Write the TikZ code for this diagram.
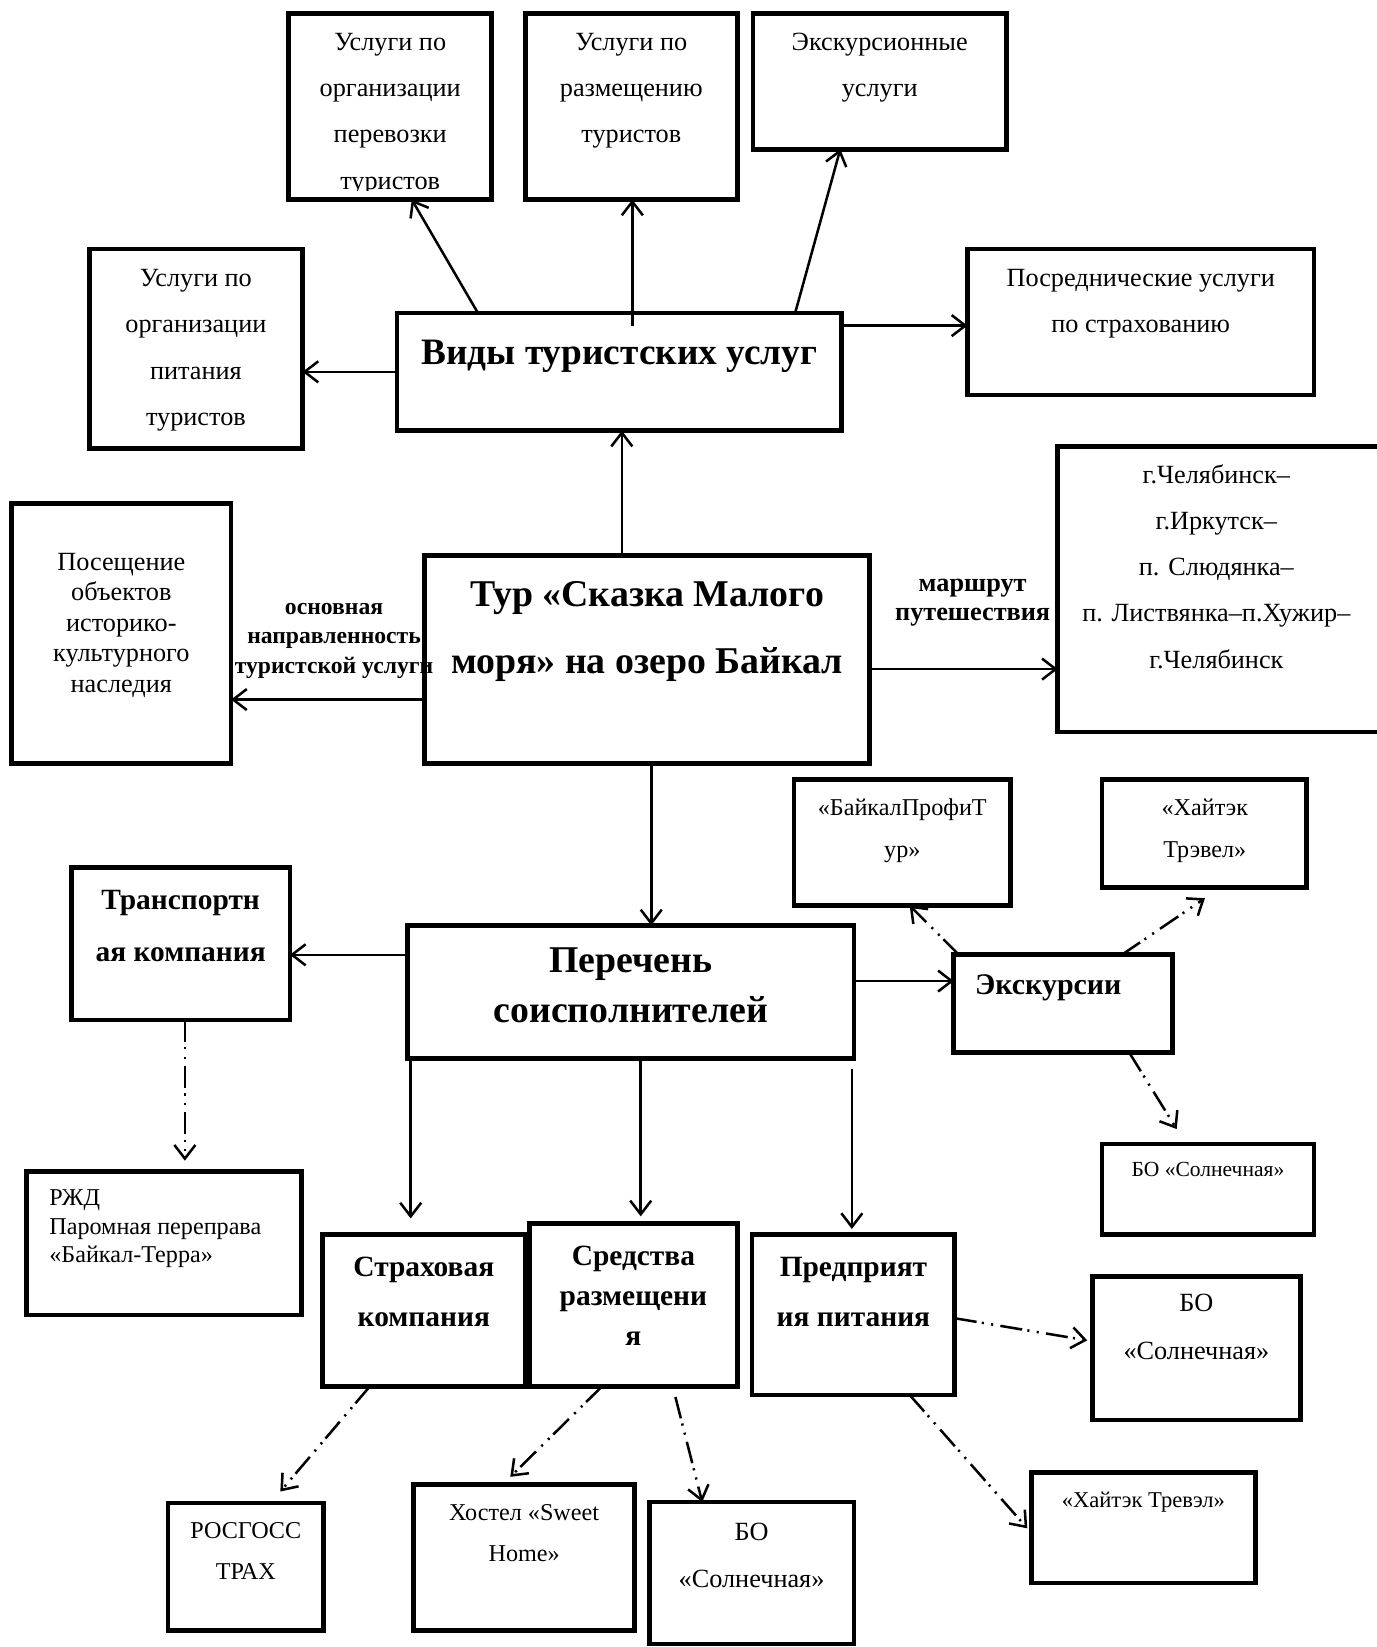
\documentclass[tikz,border=0pt]{standalone}
\usepackage{fontspec}
\setmainfont{Liberation Serif}
\usetikzlibrary{arrows.meta}
\tikzset{
  box/.style={draw, line width=4.5pt, inner sep=0pt, outer sep=0pt},
  conn/.style={line width=2.4pt, -{Straight Barb[length=13pt,width=20pt,line width=2.4pt]}},
  dconn/.style={conn, dash pattern=on 21pt off 5pt on 2pt off 7pt on 2pt off 7pt},
  tx/.style={inner sep=0pt, outer sep=0pt, align=center, anchor=north},
  txl/.style={inner sep=0pt, outer sep=0pt, align=left, anchor=north west}
}
\newcommand\tline[7]{\node[tx, font={\fontsize{#4}{#5}\selectfont#6}] (#1) at (#2,{#3-0.7*#5}) {\strut #7};}
\begin{document}
\begin{tikzpicture}[x=1pt,y=-1pt]
\useasboundingbox (0,0) rectangle (1310,1568);
% boxes
\node[box, minimum width=193pt, minimum height=177pt] (a1) at (371.5,101.5) {};
\node[box, minimum width=202pt, minimum height=177pt] (a2) at (601,101.5) {};
\node[box, minimum width=241pt, minimum height=129pt] (a3) at (837.5,77.5) {};
\node[box, minimum width=203pt, minimum height=190pt] (a4) at (186.5,332) {};
\node[box, minimum width=330pt, minimum height=139pt] (a5) at (1086,306.5) {};
\node[box, minimum width=423pt, minimum height=112pt] (vid) at (589.5,354) {};
\node[box, minimum width=209pt, minimum height=248pt] (pos) at (115.5,603) {};
\node[box, minimum width=424pt, minimum height=198pt] (tur) at (616,628) {};
\node[box, minimum width=323pt, minimum height=272pt] (route) at (1168.5,561) {};
\node[box, minimum width=206pt, minimum height=120pt] (bpt) at (859,802) {};
\node[box, minimum width=195pt, minimum height=103pt] (htk) at (1146.5,793.5) {};
\node[box, minimum width=208pt, minimum height=145pt] (trk) at (172,898.5) {};
\node[box, minimum width=425pt, minimum height=127pt] (per) at (600.5,944.5) {};
\node[box, minimum width=208pt, minimum height=93pt] (exc) at (1012,955.5) {};
\node[box, minimum width=262pt, minimum height=137pt] (rzd) at (156,1183.5) {};
\node[box, minimum width=202pt, minimum height=86pt] (bs1) at (1150,1132) {};
\node[box, minimum width=193pt, minimum height=145pt] (str) at (403.5,1247.5) {};
\node[box, minimum width=198pt, minimum height=155pt] (sre) at (603,1242.5) {};
\node[box, minimum width=193pt, minimum height=153pt] (pre) at (812.5,1251.5) {};
\node[box, minimum width=198pt, minimum height=137pt] (bs2) at (1139,1283.5) {};
\node[box, minimum width=148pt, minimum height=121pt] (rgs) at (234,1491.5) {};
\node[box, minimum width=210pt, minimum height=139pt] (hos) at (499,1482.5) {};
\node[box, minimum width=195pt, minimum height=135pt] (bs3) at (715.5,1497.5) {};
\node[box, minimum width=213pt, minimum height=105pt] (hte) at (1088.5,1454.5) {};
% texts
\begin{scope}
\clip (278,16) rectangle (465,181);
\tline{ta1}{371.5}{48}{25}{44}{}{Услуги по\\организации\\перевозки\\туристов}
\end{scope}
\tline{ta2}{601}{48}{25}{44}{}{Услуги по\\размещению\\туристов}
\tline{ta3}{837.5}{48}{25}{44}{}{Экскурсионные\\услуги}
\tline{ta4}{186.5}{273}{25}{44}{}{Услуги по\\организации\\питания\\туристов}
\tline{ta5}{1086}{273}{25}{44}{}{Посреднические услуги\\по страхованию}
\tline{tvid}{589.5}{347}{35.5}{40}{\bfseries}{Виды туристских услуг}
\tline{tpos}{115.5}{543}{25}{29}{}{Посещение\\объектов\\историко-\\культурного\\наследия}
\tline{ttur}{616}{577}{36}{64}{\bfseries}{Тур «Сказка Малого\\моря» на озеро Байкал}
\tline{troute}{1158}{460}{25}{44}{}{г.Челябинск–\\г.Иркутск–\\п. Слюдянка–\\п. Листвянка–п.Хужир–\\г.Челябинск}
\tline{lab1}{318}{585}{22.5}{28}{\bfseries}{основная\\направленность\\туристской услуги}
\tline{lab2}{926}{563}{25}{28}{\bfseries}{маршрут\\путешествия}
\tline{tbpt}{859}{776}{23}{40}{}{«БайкалПрофиТ\\ур»}
\tline{thtk}{1147}{776}{23}{40}{}{«Хайтэк\\Трэвел»}
\tline{ttrk}{172}{866}{28}{49}{\bfseries}{Транспортн\\ая компания}
\tline{tper}{600.5}{926}{36}{47}{\bfseries}{Перечень\\соисполнителей}
\tline{texc}{998}{947}{28.5}{34}{\bfseries}{Экскурсии}
\node[txl, font={\fontsize{23}{27}\selectfont}] (trzd) at (47,{1148-0.7*27}) {\strut РЖД\\Паромная переправа\\«Байкал-Терра»};
\tline{tbs1}{1150}{1120}{20.5}{24}{}{БО «Солнечная»}
\tline{tstr}{403.5}{1215}{28}{48}{\bfseries}{Страховая\\компания}
\tline{tsre}{603}{1205}{28}{38}{\bfseries}{Средства\\размещени\\я}
\tline{tpre}{812.5}{1215}{28}{48}{\bfseries}{Предприят\\ия питания}
\tline{tbs2}{1139}{1249}{25}{45}{}{БО\\«Солнечная»}
\tline{trgs}{234}{1465}{23}{39}{}{РОСГОСС\\ТРАХ}
\tline{thos}{499}{1448}{23}{39}{}{Хостел «Sweet\\Home»}
\tline{tbs3}{715.5}{1467}{25}{44}{}{БО\\«Солнечная»}
\tline{thte}{1088.5}{1435}{21.5}{26}{}{«Хайтэк Тревэл»}
% solid connectors
\draw[conn] ([xshift=-134.5]vid.north) -- ([xshift=20.5]a1.south);
\draw[conn] ([xshift=12.5,yshift=-12]vid.north) -- ([xshift=1]a2.south);
\draw[conn] ([xshift=167.5]vid.north) -- ([xshift=-37.5]a3.south);
\draw[conn] (vid.west) -- (vid.west -| a4.east);
\draw[conn] ([yshift=44]vid.east) -- ([yshift=44]vid.east -| a5.west);
\draw[conn] ([xshift=-24]tur.north) -- ([xshift=-24]tur.north |- vid.south);
\draw[conn] ([yshift=-38]tur.west) -- ([yshift=-38]tur.west -| pos.east);
\draw[conn] ([yshift=-9]tur.east) -- ([yshift=-9]tur.east -| route.west);
\draw[conn] ([xshift=4]tur.south) -- ([xshift=4]tur.south |- per.north);
\draw[conn] ([yshift=35.5]per.west) -- ([yshift=35.5]per.west -| trk.east);
\draw[conn] ([yshift=10.5]per.east) -- ([yshift=10.5]per.east -| exc.west);
\draw[conn, shorten >=15pt] ([xshift=-209.5]per.south) -- ([xshift=-209.5]per.south |- str.north);
\draw[conn, shorten >=7pt] ([xshift=9.5]per.south) -- ([xshift=9.5]per.south |- sre.north);
\draw[conn, shorten <=10pt, shorten >=5pt] ([xshift=210.5]per.south) -- ([xshift=210.5]per.south |- pre.north);
% dash-dot-dot connectors
\draw[dconn] ([xshift=5]exc.north west) -- ([xshift=7]bpt.south);
\draw[dconn, shorten >=18pt] ([xshift=56]exc.north) -- ([xshift=15.5]htk.south);
\draw[dconn, shorten >=16.6pt] ([xshift=63]exc.south) -- ([xshift=-21]bs1.north);
\draw[dconn, shorten >=10pt] ([xshift=4]trk.south) -- ([xshift=4]trk.south |- rzd.north);
\draw[dconn, shorten >=14.5pt] ([xshift=-51.5]str.south) -- ([xshift=23.5]rgs.north);
\draw[dconn, shorten >=10pt] ([xshift=-30]sre.south) -- ([xshift=-20.3]hos.north);
\draw[dconn] ([xshift=40,yshift=-10]sre.south) -- ([xshift=-47]bs3.north);
\draw[dconn, shorten >=5pt] ([yshift=-3.5]pre.east) -- ([yshift=6.6]bs2.west);
\draw[dconn, shorten >=6pt] ([xshift=53.5]pre.south) -- ([yshift=-5]hte.west);
\end{tikzpicture}
\end{document}
